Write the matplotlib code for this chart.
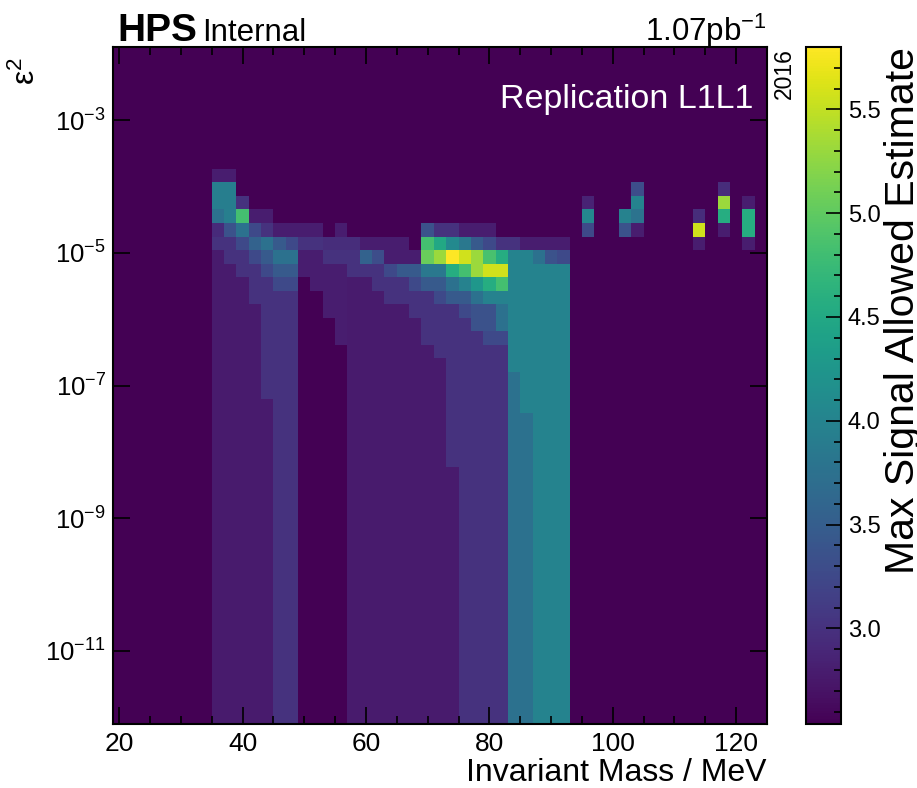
import numpy as np
import matplotlib.pyplot as plt
from matplotlib.ticker import MultipleLocator, FixedLocator, NullLocator

plt.rcParams['font.family'] = ['Liberation Sans', 'DejaVu Sans']
plt.rcParams['mathtext.default'] = 'regular'

# scan grid: A' mass bin centres (MeV) and log10(eps^2) bin centres
mass = np.arange(20, 126, 2)
log_eps2 = np.linspace(-12, -2, 50)

v_min, v_max = 2.54, 5.80   # empty cells sit at the bottom of the colour scale

# long bands that start at the lowest eps^2 row: (mass, first row, last row, value)
bands = [
    (36, 0, 34, 2.77), (38, 0, 33, 2.77), (40, 0, 32, 2.77), (42, 0, 30, 2.77),
    (44, 0, 23, 2.77), (44, 24, 31, 3.00), (46, 0, 31, 3.00), (48, 0, 31, 3.00),
    (58, 0, 32, 2.77), (60, 0, 32, 2.77), (62, 0, 31, 2.77), (64, 0, 30, 2.77),
    (66, 0, 30, 2.77), (68, 0, 29, 2.77), (70, 0, 27, 2.77), (72, 0, 26, 2.77),
    (74, 0, 18, 2.77), (74, 19, 30, 3.00), (76, 0, 29, 3.00), (78, 0, 28, 3.00),
    (80, 0, 27, 3.00), (82, 0, 27, 3.00), (84, 0, 25, 3.75), (84, 26, 34, 4.00),
    (86, 0, 22, 3.75), (86, 23, 34, 4.00), (88, 0, 33, 4.00), (90, 0, 33, 4.00),
    (92, 0, 33, 4.00),
]

# cells above the bands, listed upward from a first row: (mass, first row, values)
tops = [
    (36, 35, [3.00, 2.93, 3.75, 3.92, 3.92, 2.80]),
    (38, 34, [3.00, 3.00, 3.36, 3.94, 3.92, 3.92, 2.80]),
    (40, 33, [3.00, 3.00, 3.26, 3.75, 4.82, 3.00]),
    (42, 31, [3.00, 3.00, 3.00, 3.26, 3.55, 3.26, 2.80]),
    (44, 32, [3.00, 3.26, 3.45, 3.75, 3.00, 2.80]),
    (46, 32, [3.26, 3.45, 3.75, 3.45, 2.80]),
    (48, 32, [3.26, 3.45, 3.75, 3.26, 2.80]),
    (50, 33, [2.80, 2.80, 3.00, 2.80]),
    (52, 32, [2.80, 2.80, 2.80, 3.00, 2.80]),
    (54, 30, [2.80, 2.80, 2.80, 2.80, 3.00, 2.95]),
    (56, 28, [2.80, 2.80, 2.80, 2.80, 2.80, 2.80, 3.00, 2.95, 2.80]),
    (58, 33, [3.00, 3.00, 2.95]),
    (60, 33, [3.00, 3.55, 2.80]),
    (62, 32, [3.00, 3.00, 3.30, 2.80]),
    (64, 31, [3.00, 3.00, 3.26, 2.80, 2.80]),
    (66, 31, [3.00, 3.00, 3.45, 2.80, 2.80]),
    (68, 30, [3.00, 3.00, 3.26, 3.45, 2.80]),
    (70, 28, [3.00, 3.00, 3.00, 3.00, 3.45, 3.84, 5.05, 4.82, 3.36]),
    (72, 27, [3.00, 3.00, 3.00, 3.00, 3.26, 3.45, 3.84, 5.31, 4.50, 3.00]),
    (74, 31, [3.45, 3.75, 4.56, 5.80, 4.07, 3.00]),
    (76, 30, [3.26, 3.45, 3.97, 4.82, 5.57, 3.84, 2.80]),
    (78, 29, [3.36, 3.36, 3.75, 4.27, 5.31, 5.31, 3.45, 2.80]),
    (80, 28, [3.26, 3.36, 3.36, 3.97, 4.56, 5.57, 4.85, 3.26, 2.80]),
    (82, 28, [3.26, 3.75, 3.75, 3.97, 4.82, 5.57, 4.56, 3.00]),
    (84, 35, [3.00]),
    (86, 35, [2.80]),
    (88, 34, [3.75, 2.80]),
    (90, 34, [3.36, 2.80]),
    (92, 34, [3.26, 2.80]),
    (96, 36, [3.26, 4.05, 2.85]),
    (102, 36, [3.36, 3.97]),
    (104, 36, [2.80, 3.78, 4.00, 3.30]),
    (114, 35, [2.80, 5.57, 2.95]),
    (118, 36, [2.80, 4.56, 5.31, 2.95]),
    (122, 35, [2.80, 4.56, 4.56, 2.80]),
]

grid = np.full((len(log_eps2), len(mass)), v_min)
col = {int(m): i for i, m in enumerate(mass)}
for m, r0, r1, v in bands:
    grid[r0:r1 + 1, col[m]] = v
for m, r0, vals in tops:
    grid[r0:r0 + len(vals), col[m]] = vals

half = (log_eps2[1] - log_eps2[0]) / 2
x_edges = np.append(mass - 1, mass[-1] + 1)
y_edges = 10 ** np.append(log_eps2 - half, log_eps2[-1] + half)

W, H = 917, 788
fig = plt.figure(figsize=(W / 100, H / 100), dpi=100)
ax = fig.add_axes([113 / W, 64 / H, 654 / W, 677 / H])
cax = fig.add_axes([806 / W, 64 / H, 35 / W, 677 / H])

mesh = ax.pcolormesh(x_edges, y_edges, grid, cmap='viridis',
                     vmin=v_min, vmax=v_max)
ax.set_yscale('log')
ax.set_xlim(19, 125)
ax.set_ylim(y_edges[0], y_edges[-1])

ax.xaxis.set_major_locator(MultipleLocator(20))
ax.xaxis.set_minor_locator(MultipleLocator(5))
ax.yaxis.set_major_locator(FixedLocator([1e-11, 1e-9, 1e-7, 1e-5, 1e-3]))
ax.yaxis.set_minor_locator(NullLocator())
ax.tick_params(which='both', direction='in', top=True, right=True,
               labelsize=19, width=1.2)
ax.tick_params(axis='y', labelsize=18.5)
ax.tick_params(which='major', length=12)
ax.tick_params(which='minor', length=6)
ax.tick_params(axis='x', pad=6)
ax.tick_params(axis='y', pad=5)
for s in ax.spines.values():
    s.set_linewidth(1.5)

ax.set_xlabel('Invariant Mass / MeV', fontsize=23, loc='right')
ax.xaxis.set_label_coords(1.0, -0.05)
ax.set_ylabel('ε$^{2}$', fontsize=23, loc='top')
ax.yaxis.set_label_coords(-0.108, 0.985)

# experiment labels
ax.text(0.006, 1.009, 'HPS', transform=ax.transAxes, fontsize=28,
        fontweight='bold', va='baseline', ha='left')
ax.text(0.137, 1.009, 'Internal', transform=ax.transAxes, fontsize=22.5,
        va='baseline', ha='left')
ax.text(1.0, 1.009, '1.07pb$^{-1}$', transform=ax.transAxes, fontsize=22.5,
        va='baseline', ha='right')
ax.text(1.026, 0.998, '2016', transform=ax.transAxes, fontsize=16.5,
        rotation=90, va='top', ha='center')
ax.text(0.979, 0.91, 'Replication L1L1', transform=ax.transAxes,
        fontsize=24.5, color='white', va='baseline', ha='right')

cbar = fig.colorbar(mesh, cax=cax)
cbar.set_ticks([3.0, 3.5, 4.0, 4.5, 5.0, 5.5])
cbar.ax.yaxis.set_minor_locator(MultipleLocator(0.1))
cbar.ax.tick_params(which='both', direction='in', right=True, left=False,
                    labelsize=17, width=1.2, pad=5)
cbar.ax.tick_params(which='major', length=11)
cbar.ax.tick_params(which='minor', length=5)
cbar.outline.set_linewidth(1.5)
# as in the reference, the label runs up to the right edge of the canvas
cbar.set_label('Max Signal Allowed Estimate', fontsize=29.5, loc='top')
cbar.ax.yaxis.set_label_coords(2.24, 1.0)

fig.savefig('out.png', dpi=100)
